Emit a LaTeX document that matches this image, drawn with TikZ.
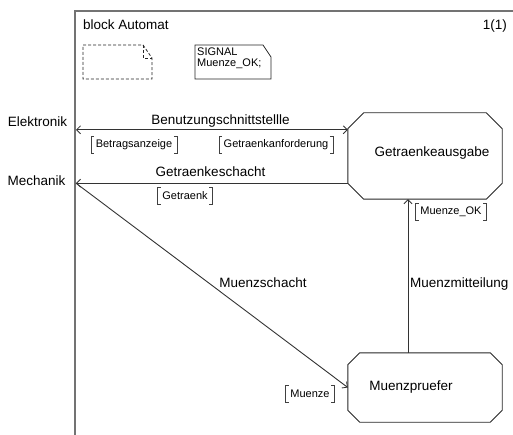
\documentclass[tikz,border=0pt]{standalone}
\usepackage{fontspec}
\setmainfont{Liberation Sans}
\usetikzlibrary{arrows.meta,calc}

% octagonal block symbol drawn around a (borderless) node
\newcommand\octbox[2]{%
  \draw[octline] ($(#1.north west)+(0,#2)$) -- ($(#1.north west)+(#2,0)$)
    -- ($(#1.north east)+(-#2,0)$) -- ($(#1.north east)+(0,#2)$)
    -- ($(#1.south east)+(0,-#2)$) -- ($(#1.south east)+(-#2,0)$)
    -- ($(#1.south west)+(#2,0)$) -- ($(#1.south west)+(0,-#2)$) -- cycle;}

% square brackets around a signal list node
\newcommand\sigbrackets[1]{%
  \draw[brk] ($(#1.north west)+(3,0)$) -- (#1.north west) -- (#1.south west) -- ++(3,0);
  \draw[brk] ($(#1.north east)+(-3,0)$) -- (#1.north east) -- (#1.south east) -- ++(-3,0);}

\tikzset{barb/.tip={Straight Barb[length=4pt,width=8pt,line width=0.8pt]}}

\begin{document}
\begin{tikzpicture}[x=1pt,y=-1pt,
  frameline/.style={draw=black!55, line width=1.4pt},
  lbl/.style={font=\fontsize{13.5}{16}\selectfont, inner sep=0pt, anchor=base},
  sigl/.style={font=\fontsize{11}{13}\selectfont, inner xsep=4.5pt, inner ysep=0pt, minimum height=17pt},
  blk/.style={draw=none, inner sep=0pt},
  blktext/.style={font=\fontsize{13.5}{16}\selectfont, inner sep=0pt},
  octline/.style={draw=black!85, line width=0.9pt},
  chan/.style={draw=black!80, line width=0.9pt},
  brk/.style={draw=black!75, line width=0.8pt},
  note/.style={draw=black!85, line width=0.8pt},
]
\useasboundingbox (0,0) rectangle (513,435);

% block frame
\draw[frameline] (75,435) -- (75,11) -- (513,11);
\coordinate (fw) at (76,0);
\node[lbl, anchor=base west] (title) at (83,30) {block Automat};
\node[lbl, anchor=base east] (page) at (507,30) {1(1)};

% empty text symbol and signal declaration
\draw[note, dash pattern=on 3pt off 2pt]
  (83,45) -- (143,45) -- (152,58) -- (152,79) -- (83,79) -- cycle;
\draw[note, dash pattern=on 3pt off 2pt] (143,45) -- (143,58) -- (152,58);
\draw[note] (195,45) -- (263,45) -- (271,57) -- (271,79) -- (195,79) -- cycle;
\node[anchor=north west, align=left, inner sep=0pt,
      font=\fontsize{11}{10.5}\selectfont] (sigdecl) at (197,48) {SIGNAL\\Muenze\_OK;};

% environment names
\node[lbl] (elek) at (37.5,127) {Elektronik};
\node[lbl] (mech) at (36.5,186) {Mechanik};

% blocks
\node[blk, minimum width=154pt, minimum height=86pt,
      label={[blktext, xshift=7pt, yshift=3pt]center:Getraenkeausgabe}] (gaus) at (425,156) {};
\octbox{gaus}{16}
\node[blk, minimum width=154pt, minimum height=69pt,
      label={[blktext, xshift=-14pt]center:Muenzpruefer}] (mp) at (425,387.5) {};
\octbox{mp}{12}

% channels
\coordinate (gausA) at ($(gaus.north west)+(0,17)$);
\coordinate (gausB) at ($(gaus.south west)+(0,-16)$);
\draw[chan, barb-barb] (fw |- gausA) -- (gausA);
\draw[chan, -barb] (gausB) -- (fw |- gausB);
\draw[chan, -barb] (fw |- gausB) -- (mp.west);
\draw[chan, -barb] ($(mp.north)+(-17,0)$) -- ($(gaus.south)+(-17,0)$);

% channel names
\node[lbl] (c1) at (220.5,125) {Benutzungschnittstellle};
\node[lbl] (c2) at (210.5,177) {Getraenkeschacht};
\node[lbl] (c3) at (263,287) {Muenzschacht};
\node[lbl, anchor=base west] (c4) at (410,287) {Muenzmitteilung};

% signal lists
\node[sigl] (s1) at (134,145) {Betragsanzeige};
\sigbrackets{s1}
\node[sigl] (s2) at (276,145) {Getraenkanforderung};
\sigbrackets{s2}
\node[sigl] (s3) at (185,196) {Getraenk};
\sigbrackets{s3}
\node[sigl] (s4) at (451,212) {Muenze\_OK};
\sigbrackets{s4}
\node[sigl] (s5) at (310,394) {Muenze};
\sigbrackets{s5}
\end{tikzpicture}
\end{document}
